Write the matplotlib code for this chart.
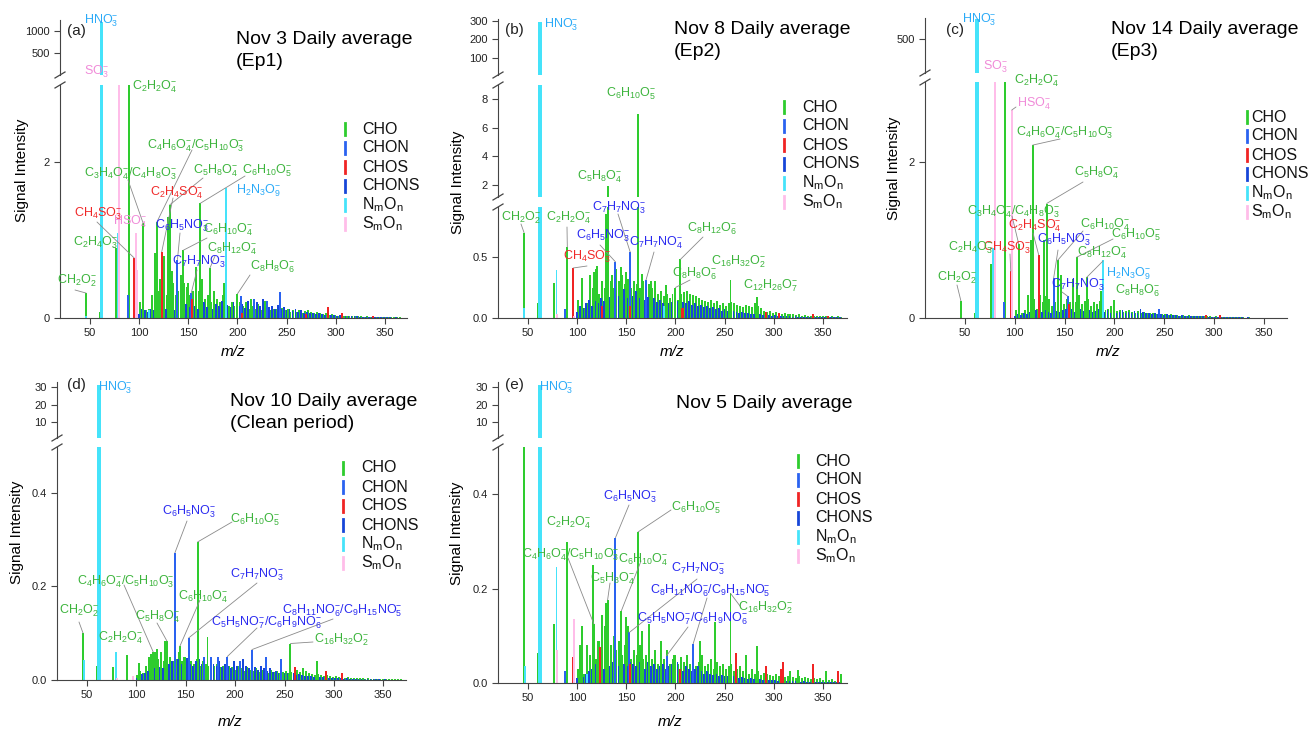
import re
import matplotlib
matplotlib.use('Agg')
import matplotlib.pyplot as plt
from matplotlib.lines import Line2D

plt.rcParams['font.family'] = ['Liberation Sans', 'DejaVu Sans']
plt.rcParams['mathtext.fontset'] = 'custom'
plt.rcParams['mathtext.rm'] = 'Liberation Sans'
plt.rcParams['mathtext.it'] = 'Liberation Sans:italic'
plt.rcParams['mathtext.default'] = 'regular'

## colours
C_CHO = '#2ecc2e'
C_CHON = '#2a62f0'
C_CHOS = '#f02424'
C_CHONS = '#1746d8'
C_NMON = '#45e3fa'
C_SMON = '#ffbde9'
T_GREEN = '#3cb43c'
T_BLUE = '#2a2af0'
T_RED = '#f02828'
T_SKY = '#2aaaf8'
T_PINK = '#f08ad8'

## background m/z grid (integer masses)
bg_cho_mz = list(range(101, 371, 3))
bg_chon_mz = list(range(100, 370, 3))

## ---- panel (a) Nov 3 ----
a_cho_mz = [46, 60, 76, 90, 104, 113, 116, 118, 121, 125, 129, 131, 133, 143, 145, 150, 158, 162, 164, 172, 176, 186, 200, 214, 228]
a_cho_h = [0.32, 0.08, 0.90, 3.2, 1.22, 0.25, 0.83, 1.23, 0.5, 0.80, 1.30, 1.45, 0.6, 0.55, 0.87, 0.45, 0.65, 1.47, 0.5, 0.64, 0.35, 0.45, 0.31, 0.25, 0.22]
a_chon_mz = [89, 139, 153, 204, 217, 230, 243]
a_chon_h = [0.30, 0.75, 0.32, 0.28, 0.24, 0.22, 0.33]
a_chos_mz = [95, 123, 154, 205, 270, 292, 306, 338]
a_chos_h = [0.77, 0.85, 0.25, 0.06, 0.05, 0.14, 0.06, 0.03]
a_nmon_mz = [46, 62, 78, 110, 188]
a_nmon_h = [0.03, 1200, 1.09, 0.10, 1.67]
a_smon_mz = [80, 97, 98]
a_smon_h = [3.5, 1.09, 0.62]
a_bg_cho = [0.20, 0.15, 0.10, 0.12, 0.30, 0.20, 0.35, 0.25, 0.50, 0.30,
            0.40, 0.45, 0.30, 0.35, 0.50, 0.45, 0.40, 0.30, 0.35, 0.45,
            0.35, 0.30, 0.25, 0.30, 0.20, 0.30, 0.25, 0.20, 0.30, 0.20,
            0.15, 0.20, 0.15, 0.18, 0.20, 0.15, 0.20, 0.12, 0.16, 0.12,
            0.18, 0.10, 0.14, 0.15, 0.10, 0.12, 0.12, 0.10, 0.13, 0.10,
            0.12, 0.08, 0.10, 0.08, 0.10, 0.07, 0.09, 0.10, 0.08, 0.07,
            0.08, 0.06, 0.05, 0.06, 0.04, 0.05, 0.04, 0.03, 0.04, 0.03,
            0.03, 0.025, 0.03, 0.02, 0.02, 0.02, 0.015, 0.02, 0.015, 0.01,
            0.015, 0.01, 0.01, 0.01, 0.01, 0.008, 0.01, 0.008, 0.008, 0.006]
a_bg_chon = [0.05, 0.12, 0.10, 0.08, 0.12, 0.10, 0.14, 0.10, 0.15, 0.12,
             0.18, 0.15, 0.10, 0.20, 0.16, 0.12, 0.18, 0.14, 0.22, 0.15,
             0.12, 0.17, 0.20, 0.14, 0.16, 0.12, 0.18, 0.15, 0.22, 0.13,
             0.17, 0.14, 0.20, 0.24, 0.15, 0.18, 0.13, 0.22, 0.16, 0.14,
             0.20, 0.15, 0.25, 0.18, 0.14, 0.16, 0.12, 0.17, 0.11, 0.14,
             0.10, 0.12, 0.09, 0.11, 0.08, 0.10, 0.07, 0.08, 0.06, 0.07,
             0.05, 0.06, 0.05, 0.04, 0.05, 0.04, 0.035, 0.03, 0.04, 0.03,
             0.025, 0.03, 0.02, 0.025, 0.02, 0.018, 0.015, 0.018, 0.012, 0.015,
             0.01, 0.012, 0.01, 0.008, 0.01, 0.008, 0.006, 0.007, 0.005, 0.005]

## ---- panel (b) Nov 8 ----
b_cho_mz = [46, 60, 76, 90, 105, 117, 120, 129, 131, 135, 145, 150, 158, 162, 166, 175, 190, 200, 205, 256, 283]
b_cho_h = [0.70, 0.12, 0.29, 0.58, 0.33, 0.38, 0.43, 0.85, 1.95, 0.35, 0.42, 0.38, 0.30, 7.0, 0.36, 0.30, 0.27, 0.25, 0.48, 0.31, 0.17]
b_chon_mz = [88, 139, 154, 170]
b_chon_h = [0.07, 0.46, 0.54, 0.31]
b_chos_mz = [96, 125, 154, 207, 208, 292, 305, 340, 355]
b_chos_h = [0.41, 0.10, 0.10, 0.08, 0.08, 0.05, 0.04, 0.03, 0.02]
b_nmon_mz = [46, 62, 79, 188]
b_nmon_h = [0.08, 295, 0.39, 0.10]
b_smon_mz = [80, 97]
b_smon_h = [0.03, 0.02]
b_bg_cho = [0.15, 0.10, 0.08, 0.12, 0.35, 0.25, 0.40, 0.20, 0.30, 0.25,
            0.35, 0.30, 0.25, 0.40, 0.30, 0.35, 0.28, 0.32, 0.25, 0.30,
            0.28, 0.25, 0.30, 0.22, 0.28, 0.25, 0.30, 0.20, 0.22, 0.18,
            0.20, 0.16, 0.20, 0.18, 0.15, 0.20, 0.21, 0.22, 0.20, 0.19,
            0.18, 0.16, 0.15, 0.14, 0.13, 0.15, 0.12, 0.14, 0.11, 0.12,
            0.10, 0.12, 0.13, 0.12, 0.11, 0.10, 0.09, 0.11, 0.10, 0.09,
            0.12, 0.10, 0.08, 0.06, 0.05, 0.06, 0.04, 0.05, 0.04, 0.035,
            0.04, 0.03, 0.035, 0.03, 0.025, 0.03, 0.02, 0.025, 0.02, 0.02,
            0.018, 0.02, 0.015, 0.018, 0.015, 0.012, 0.015, 0.012, 0.02, 0.01]
b_bg_chon = [0.05, 0.10, 0.08, 0.12, 0.15, 0.10, 0.14, 0.12, 0.16, 0.14,
             0.20, 0.17, 0.15, 0.22, 0.18, 0.20, 0.24, 0.16, 0.20, 0.18,
             0.22, 0.16, 0.19, 0.15, 0.17, 0.14, 0.16, 0.13, 0.15, 0.12,
             0.14, 0.12, 0.13, 0.15, 0.14, 0.16, 0.13, 0.12, 0.14, 0.11,
             0.12, 0.10, 0.11, 0.09, 0.10, 0.08, 0.09, 0.07, 0.08, 0.06,
             0.07, 0.06, 0.05, 0.06, 0.05, 0.04, 0.05, 0.04, 0.04, 0.035,
             0.03, 0.035, 0.03, 0.025, 0.03, 0.025, 0.02, 0.025, 0.02, 0.018,
             0.015, 0.018, 0.015, 0.012, 0.015, 0.012, 0.01, 0.012, 0.01, 0.01,
             0.008, 0.01, 0.008, 0.008, 0.006, 0.008, 0.006, 0.005, 0.005, 0.005]

## ---- panel (c) Nov 14 ----
c_cho_mz = [46, 60, 76, 90, 104, 116, 118, 129, 132, 143, 146, 158, 162, 172, 186, 200]
c_cho_h = [0.22, 0.06, 0.69, 3.2, 0.95, 1.0, 2.22, 1.0, 1.47, 0.74, 0.55, 0.50, 0.78, 0.52, 0.35, 0.23]
c_chon_mz = [89, 139, 153, 245]
c_chon_h = [0.20, 0.51, 0.28, 0.12]
c_chos_mz = [96, 124, 154, 292, 306]
c_chos_h = [0.60, 0.81, 0.18, 0.04, 0.04]
c_nmon_mz = [62, 78, 188]
c_nmon_h = [780, 0.90, 0.74]
c_smon_mz = [80, 97]
c_smon_h = [3.5, 2.67]
c_bg_cho = [0.10, 0.08, 0.06, 0.10, 0.30, 0.15, 0.25, 0.12, 0.30, 0.20,
            0.28, 0.25, 0.15, 0.20, 0.30, 0.22, 0.18, 0.25, 0.20, 0.28,
            0.20, 0.30, 0.18, 0.22, 0.25, 0.15, 0.20, 0.18, 0.22, 0.12,
            0.10, 0.12, 0.15, 0.10, 0.09, 0.10, 0.08, 0.09, 0.10, 0.08,
            0.07, 0.09, 0.06, 0.08, 0.07, 0.06, 0.07, 0.05, 0.06, 0.05,
            0.05, 0.04, 0.05, 0.04, 0.04, 0.03, 0.04, 0.03, 0.035, 0.03,
            0.025, 0.03, 0.02, 0.025, 0.02, 0.02, 0.015, 0.02, 0.015, 0.012,
            0.012, 0.01, 0.012, 0.01, 0.008, 0.01, 0.008, 0.006, 0.008, 0.006,
            0.005, 0.006, 0.005, 0.004, 0.005, 0.004, 0.004, 0.003, 0.004, 0.003]
c_bg_chon = [0.03, 0.05, 0.04, 0.06, 0.05, 0.08, 0.06, 0.10, 0.07, 0.08,
             0.10, 0.08, 0.07, 0.12, 0.09, 0.08, 0.10, 0.12, 0.09, 0.11,
             0.08, 0.10, 0.12, 0.09, 0.07, 0.10, 0.08, 0.09, 0.12, 0.07,
             0.08, 0.10, 0.07, 0.09, 0.06, 0.08, 0.10, 0.07, 0.08, 0.06,
             0.09, 0.07, 0.12, 0.08, 0.06, 0.07, 0.05, 0.06, 0.05, 0.05,
             0.04, 0.05, 0.04, 0.04, 0.035, 0.03, 0.035, 0.03, 0.03, 0.025,
             0.02, 0.025, 0.02, 0.02, 0.015, 0.018, 0.015, 0.012, 0.015, 0.012,
             0.01, 0.012, 0.01, 0.01, 0.008, 0.01, 0.008, 0.006, 0.008, 0.006,
             0.005, 0.006, 0.005, 0.004, 0.005, 0.004, 0.004, 0.003, 0.003, 0.003]

## ---- panel (d) Nov 10 ----
d_cho_mz = [46, 60, 76, 90, 103, 115, 117, 121, 125, 129, 131, 144, 148, 162, 172, 256, 283]
d_cho_h = [0.10, 0.03, 0.028, 0.054, 0.037, 0.055, 0.06, 0.066, 0.06, 0.083, 0.083, 0.072, 0.05, 0.295, 0.092, 0.078, 0.04]
d_chon_mz = [139, 153, 168, 176, 183, 192, 205, 217, 231, 246]
d_chon_h = [0.272, 0.09, 0.05, 0.05, 0.05, 0.05, 0.04, 0.065, 0.05, 0.045]
d_chos_mz = [261, 292, 308]
d_chos_h = [0.027, 0.02, 0.015]
d_nmon_mz = [47, 62, 79]
d_nmon_h = [0.043, 31, 0.06]
d_smon_mz = [80, 97]
d_smon_h = [0.005, 0.008]
d_bg_cho = [0.010, 0.020, 0.015, 0.030, 0.050, 0.040, 0.060, 0.045, 0.050, 0.040,
            0.035, 0.050, 0.040, 0.045, 0.060, 0.040, 0.050, 0.045, 0.040, 0.035,
            0.045, 0.030, 0.040, 0.035, 0.030, 0.038, 0.030, 0.035, 0.028, 0.030,
            0.025, 0.030, 0.028, 0.022, 0.030, 0.025, 0.020, 0.028, 0.022, 0.020,
            0.025, 0.018, 0.022, 0.020, 0.016, 0.022, 0.018, 0.020, 0.015, 0.018,
            0.020, 0.016, 0.018, 0.015, 0.022, 0.018, 0.025, 0.020, 0.015, 0.012,
            0.010, 0.012, 0.010, 0.008, 0.010, 0.008, 0.007, 0.008, 0.006, 0.007,
            0.005, 0.006, 0.005, 0.005, 0.004, 0.005, 0.004, 0.003, 0.004, 0.003,
            0.003, 0.003, 0.002, 0.003, 0.002, 0.002, 0.002, 0.002, 0.002, 0.002]
d_bg_chon = [0.005, 0.010, 0.012, 0.015, 0.020, 0.018, 0.025, 0.030, 0.028, 0.025,
             0.030, 0.035, 0.040, 0.030, 0.045, 0.035, 0.040, 0.048, 0.035, 0.030,
             0.040, 0.045, 0.035, 0.040, 0.030, 0.045, 0.035, 0.030, 0.040, 0.028,
             0.035, 0.030, 0.025, 0.040, 0.030, 0.025, 0.045, 0.030, 0.025, 0.035,
             0.028, 0.022, 0.030, 0.025, 0.020, 0.025, 0.018, 0.020, 0.015, 0.018,
             0.014, 0.016, 0.012, 0.014, 0.010, 0.012, 0.010, 0.009, 0.008, 0.008,
             0.007, 0.007, 0.006, 0.006, 0.005, 0.005, 0.005, 0.004, 0.004, 0.004,
             0.003, 0.004, 0.003, 0.003, 0.003, 0.002, 0.003, 0.002, 0.002, 0.002,
             0.002, 0.002, 0.002, 0.001, 0.002, 0.001, 0.001, 0.001, 0.001, 0.001]

## ---- panel (e) Nov 5 ----
e_cho_mz = [46, 60, 76, 90, 103, 105, 116, 117, 121, 125, 129, 131, 145, 150, 162, 166, 173, 185, 199, 225, 240, 256, 272, 283, 325, 353, 368]
e_cho_h = [0.55, 0.064, 0.125, 0.298, 0.08, 0.12, 0.25, 0.125, 0.09, 0.145, 0.17, 0.176, 0.153, 0.14, 0.32, 0.11, 0.125, 0.09, 0.06, 0.09, 0.13, 0.19, 0.06, 0.078, 0.027, 0.025, 0.02]
e_chon_mz = [88, 139, 153, 191, 218]
e_chon_h = [0.025, 0.308, 0.107, 0.058, 0.083]
e_chos_mz = [96, 123, 154, 205, 262, 292, 307, 309, 340, 365]
e_chos_h = [0.055, 0.076, 0.04, 0.03, 0.063, 0.035, 0.03, 0.045, 0.04, 0.025]
e_nmon_mz = [47, 62, 79, 110]
e_nmon_h = [0.035, 31, 0.245, 0.02]
e_smon_mz = [80, 97]
e_smon_h = [0.07, 0.135]
e_bg_cho = [0.030, 0.040, 0.020, 0.080, 0.060, 0.100, 0.050, 0.090, 0.070, 0.120,
            0.060, 0.080, 0.100, 0.070, 0.090, 0.060, 0.080, 0.120, 0.050, 0.070,
            0.060, 0.080, 0.050, 0.060, 0.090, 0.050, 0.070, 0.040, 0.060, 0.050,
            0.070, 0.040, 0.050, 0.060, 0.040, 0.055, 0.045, 0.060, 0.040, 0.050,
            0.035, 0.045, 0.060, 0.035, 0.040, 0.050, 0.030, 0.045, 0.035, 0.040,
            0.030, 0.035, 0.040, 0.025, 0.030, 0.035, 0.025, 0.030, 0.020, 0.030,
            0.020, 0.025, 0.018, 0.022, 0.020, 0.018, 0.015, 0.020, 0.015, 0.018,
            0.012, 0.015, 0.025, 0.012, 0.010, 0.015, 0.010, 0.012, 0.010, 0.008,
            0.010, 0.008, 0.010, 0.006, 0.008, 0.006, 0.008, 0.005, 0.006, 0.005]
e_bg_chon = [0.010, 0.015, 0.012, 0.020, 0.025, 0.030, 0.040, 0.035, 0.045, 0.030,
             0.040, 0.035, 0.045, 0.040, 0.035, 0.050, 0.040, 0.035, 0.045, 0.040,
             0.035, 0.045, 0.040, 0.030, 0.045, 0.035, 0.040, 0.030, 0.035, 0.040,
             0.030, 0.035, 0.040, 0.030, 0.045, 0.030, 0.025, 0.035, 0.030, 0.025,
             0.030, 0.035, 0.025, 0.020, 0.025, 0.020, 0.018, 0.020, 0.015, 0.018,
             0.015, 0.014, 0.012, 0.014, 0.012, 0.010, 0.012, 0.010, 0.009, 0.010,
             0.008, 0.009, 0.008, 0.007, 0.008, 0.006, 0.007, 0.006, 0.005, 0.006,
             0.005, 0.005, 0.004, 0.005, 0.004, 0.004, 0.003, 0.004, 0.003, 0.003,
             0.003, 0.003, 0.002, 0.003, 0.002, 0.002, 0.002, 0.002, 0.002, 0.002]

legend_names = ['CHO', 'CHON', 'CHOS', 'CHONS', r'N$_{m}$O$_{n}$', r'S$_{m}$O$_{n}$']
legend_colors = [C_CHO, C_CHON, C_CHOS, C_CHONS, C_NMON, C_SMON]

W, H = 1309, 730
fig = plt.figure(figsize=(W / 100, H / 100), dpi=100)
AX_COL = '#444444'


def add_ax(x0, x1, y0, y1):
    return fig.add_axes([x0 / W, 1 - y1 / H, (x1 - x0) / W, (y1 - y0) / H])


def fml(s):
    ## 'C2H2O4-' -> mathtext with subscripts and superscript minus
    out = []
    for part in s.split('/'):
        neg = part.endswith('-')
        toks = re.findall(r'[A-Za-z]+|\d+', part.rstrip('-'))
        seg = ''
        for i, tk in enumerate(toks):
            if tk.isdigit():
                if neg and i == len(toks) - 1:
                    seg += '$_{%s}^{-}$' % tk
                else:
                    seg += '$_{%s}$' % tk
            else:
                seg += tk
        if neg and not toks[-1].isdigit():
            seg += '$^{-}$'
        out.append(seg)
    return '/'.join(out)


def slash(x, y):
    fig.add_artist(Line2D([(x - 5) / W, (x + 5) / W], [1 - (y + 3) / H, 1 - (y - 3) / H],
                          transform=fig.transFigure, color=AX_COL, lw=0.9))


def draw_panel(p):
    x0, x1 = p['x']
    axes = []
    nseg = len(p['segs'])
    for k, (y0, y1, ylim, yt, ytl) in enumerate(p['segs']):
        ax = add_ax(x0, x1, y0, y1)
        ax.bar(bg_cho_mz, p['bg_cho'], width=2.0, color=C_CHO, linewidth=0)
        ax.bar(bg_chon_mz, p['bg_chon'], width=1.8, color=C_CHONS, linewidth=0)
        ax.bar(p['cho'][0], p['cho'][1], width=2.0, color=C_CHO, linewidth=0)
        ax.bar(p['chon'][0], p['chon'][1], width=2.0, color=C_CHON, linewidth=0)
        ax.bar(p['chos'][0], p['chos'][1], width=2.0, color=C_CHOS, linewidth=0)
        wn = [3.5 if h > 10 else 2.0 for h in p['nmon'][1]]
        ax.bar(p['nmon'][0], p['nmon'][1], width=wn, color=C_NMON, linewidth=0)
        ax.bar(p['smon'][0], p['smon'][1], width=2.0, color=C_SMON, linewidth=0)
        ax.set_xlim(*p['xlim'])
        ax.set_ylim(*ylim)
        ax.set_yticks(yt)
        ax.set_yticklabels(ytl if ytl else [str(v) for v in yt])
        for s in ['top', 'right']:
            ax.spines[s].set_visible(False)
        ax.spines['left'].set_color(AX_COL)
        ax.spines['bottom'].set_color(AX_COL)
        ax.tick_params(direction='out', length=4, width=0.8, colors=AX_COL, labelsize=8,
                       labelcolor='#222222')
        if k < nseg - 1:
            ax.spines['bottom'].set_visible(False)
            ax.set_xticks([])
        else:
            ax.set_xticks([50, 100, 150, 200, 250, 300, 350])
        ax.patch.set_alpha(0)
        axes.append(ax)
    for k in range(nseg - 1):
        slash(x0, p['segs'][k][1])
        slash(x0, p['segs'][k + 1][0])
    bottom = axes[-1]
    look = {'cho': p['cho'], 'chon': p['chon'], 'chos': p['chos'], 'smon': p['smon']}
    for txt, col, tx, ty, lead in p['labels']:
        fig.text(tx / W, 1 - ty / H, fml(txt), color=col, fontsize=9, ha='left', va='center')
        if lead is not None:
            lx, ly, mz, cls = lead
            h = look[cls][1][look[cls][0].index(mz)]
            bottom.annotate('', xy=(mz, h), xycoords='data', xytext=(lx, H - ly),
                            textcoords='figure pixels', annotation_clip=False,
                            arrowprops=dict(arrowstyle='-', color='#8a8a8a', lw=0.6,
                                            shrinkA=0, shrinkB=0))
    # title, panel letter
    tx, ty = p['title_pos']
    for i, line in enumerate(p['title']):
        fig.text(tx / W, 1 - (ty + 22 * i) / H, line, fontsize=14, ha='left', va='center')
    lx, ly = p['letter_pos']
    fig.text(lx / W, 1 - ly / H, p['letter'], fontsize=11, ha='left', va='center', color='#222222')
    # legend
    hx, lx2, ly0 = p['legend']
    for i, (nm, c) in enumerate(zip(legend_names, legend_colors)):
        yy = ly0 + 19 * i
        fig.add_artist(Line2D([hx / W, hx / W], [1 - (yy + 6) / H, 1 - (yy - 6) / H],
                              transform=fig.transFigure, color=c, lw=2.0))
        fig.text(lx2 / W, 1 - yy / H, nm, fontsize=11.5, ha='left', va='center', color='#111111')
    # axis labels
    yx, yy = p['ylabel_pos']
    fig.text(yx / W, 1 - yy / H, 'Signal Intensity', rotation=90, fontsize=11,
             ha='center', va='center')
    mx, my = p['xlabel_pos']
    fig.text(mx / W, 1 - my / H, 'm/z', style='italic', fontsize=11, ha='center', va='center')


panels = [
    dict(letter='(a)', letter_pos=(67, 31), x=(60, 407), xlim=(19.5, 372.5),
         segs=[(20, 75, (3, 1250), [500, 1000], None), (85, 318, (0, 2.99), [0, 2], None)],
         cho=(a_cho_mz, a_cho_h), chon=(a_chon_mz, a_chon_h), chos=(a_chos_mz, a_chos_h),
         nmon=(a_nmon_mz, a_nmon_h), smon=(a_smon_mz, a_smon_h), bg_cho=a_bg_cho, bg_chon=a_bg_chon,
         title=['Nov 3 Daily average', '(Ep1)'], title_pos=(236, 40),
         legend=(345, 362, 129), ylabel_pos=(22, 170), xlabel_pos=(233, 352),
         labels=[('HNO3-', T_SKY, 84, 21, None), ('SO3-', T_PINK, 84, 72, None),
                 ('C2H2O4-', T_GREEN, 132, 87, None),
                 ('C4H6O4-/C5H10O3-', T_GREEN, 147, 146, (192, 150, 118, 'cho')),
                 ('C3H4O4-/C4H8O3-', T_GREEN, 84, 174, (128, 180, 104, 'cho')),
                 ('C5H8O4-', T_GREEN, 193, 171, (203, 178, 131, 'cho')),
                 ('C6H10O5-', T_GREEN, 242, 171, (245, 176, 162, 'cho')),
                 ('C2H4SO4-', T_RED, 150, 193, (173, 198, 123, 'chos')),
                 ('H2N3O9-', T_SKY, 236, 191, None),
                 ('CH4SO3-', T_RED, 74, 214, (97, 222, 95, 'chos')),
                 ('HSO4-', T_PINK, 113, 222, None),
                 ('C6H5NO3-', T_BLUE, 155, 226, (180, 233, 139, 'chon')),
                 ('C6H10O4-', T_GREEN, 203, 230, (207, 238, 145, 'cho')),
                 ('C8H12O4-', T_GREEN, 207, 249, (215, 256, 172, 'cho')),
                 ('C7H7NO3-', T_BLUE, 172, 262, (197, 270, 153, 'chon')),
                 ('C2H4O3-', T_GREEN, 73, 243, (113, 247, 76, 'cho')),
                 ('CH2O2-', T_GREEN, 57, 281, (75, 290, 46, 'cho')),
                 ('C8H8O6-', T_GREEN, 250, 267, (250, 275, 200, 'cho'))]),
    dict(letter='(b)', letter_pos=(505, 30), x=(498, 847), xlim=(19.5, 374.5),
         segs=[(19, 75, (8, 310), [100, 200, 300], None), (85, 197, (1.16, 9.0), [2, 4, 6, 8], None),
               (207, 318, (0, 0.91), [0.0, 0.5], ['0.0', '0.5'])],
         cho=(b_cho_mz, b_cho_h), chon=(b_chon_mz, b_chon_h), chos=(b_chos_mz, b_chos_h),
         nmon=(b_nmon_mz, b_nmon_h), smon=(b_smon_mz, b_smon_h), bg_cho=b_bg_cho, bg_chon=b_bg_chon,
         title=['Nov 8 Daily average', '(Ep2)'], title_pos=(674, 30),
         legend=(784, 802, 107), ylabel_pos=(458, 182), xlabel_pos=(672, 352),
         labels=[('HNO3-', T_SKY, 544, 25, None),
                 ('C6H10O5-', T_GREEN, 606, 94, None),
                 ('C5H8O4-', T_GREEN, 577, 177, None),
                 ('CH2O2-', T_GREEN, 501, 218, (521, 224, 46, 'cho')),
                 ('C2H2O4-', T_GREEN, 546, 218, (567, 227, 90, 'cho')),
                 ('C7H7NO3-', T_BLUE, 592, 208, (618, 214, 154, 'chon')),
                 ('C6H5NO3-', T_BLUE, 576, 236, (600, 245, 139, 'chon')),
                 ('C7H7NO4-', T_BLUE, 629, 243, (654, 252, 170, 'chon')),
                 ('CH4SO3-', T_RED, 563, 257, (587, 266, 96, 'chos')),
                 ('C8H12O6-', T_GREEN, 687, 229, (703, 237, 205, 'cho')),
                 ('C8H8O6-', T_GREEN, 672, 274, (690, 280, 200, 'cho')),
                 ('C16H32O2-', T_GREEN, 711, 262, None),
                 ('C12H26O7-', T_GREEN, 743, 286, None)]),
    dict(letter='(c)', letter_pos=(946, 30), x=(925, 1287), xlim=(10, 373),
         segs=[(18, 73, (3, 800), [500], None), (82, 318, (0, 3.03), [0, 2], None)],
         cho=(c_cho_mz, c_cho_h), chon=(c_chon_mz, c_chon_h), chos=(c_chos_mz, c_chos_h),
         nmon=(c_nmon_mz, c_nmon_h), smon=(c_smon_mz, c_smon_h), bg_cho=c_bg_cho, bg_chon=c_bg_chon,
         title=['Nov 14 Daily average', '(Ep3)'], title_pos=(1111, 30),
         legend=(1247, 1251, 117), ylabel_pos=(894, 168), xlabel_pos=(1108, 352),
         labels=[('HNO3-', T_SKY, 962, 20, None), ('SO3-', T_PINK, 983, 67, None),
                 ('C2H2O4-', T_GREEN, 1014, 81, None),
                 ('HSO4-', T_PINK, 1017, 104, (1016, 107, 97, 'smon')),
                 ('C4H6O4-/C5H10O3-', T_GREEN, 1016, 133, (1060, 139, 118, 'cho')),
                 ('C5H8O4-', T_GREEN, 1074, 173, (1083, 182, 132, 'cho')),
                 ('C3H4O4-/C4H8O3-', T_GREEN, 967, 212, (1012, 216, 104, 'cho')),
                 ('C2H4SO4-', T_RED, 1008, 226, (1033, 233, 124, 'chos')),
                 ('C6H10O4-', T_GREEN, 1080, 225, (1083, 231, 143, 'cho')),
                 ('C6H10O5-', T_GREEN, 1111, 235, (1113, 239, 162, 'cho')),
                 ('C6H5NO3-', T_BLUE, 1037, 240, (1058, 250, 139, 'chon')),
                 ('CH4SO3-', T_RED, 983, 248, (1010, 254, 96, 'chos')),
                 ('C2H4O3-', T_GREEN, 948, 248, None),
                 ('C8H12O4-', T_GREEN, 1077, 253, (1103, 261, 172, 'cho')),
                 ('CH2O2-', T_GREEN, 937, 278, (957, 285, 46, 'cho')),
                 ('H2N3O9-', T_SKY, 1106, 274, None),
                 ('C7H7NO3-', T_BLUE, 1051, 285, (1062, 292, 153, 'chon')),
                 ('C8H8O6-', T_GREEN, 1115, 291, None)]),
    dict(letter='(d)', letter_pos=(67, 385), x=(57, 406), xlim=(19.6, 373),
         segs=[(382, 438, (0.86, 32.9), [10, 20, 30], None),
               (447, 680, (0, 0.498), [0.0, 0.2, 0.4], ['0.0', '0.2', '0.4'])],
         cho=(d_cho_mz, d_cho_h), chon=(d_chon_mz, d_chon_h), chos=(d_chos_mz, d_chos_h),
         nmon=(d_nmon_mz, d_nmon_h), smon=(d_smon_mz, d_smon_h), bg_cho=d_bg_cho, bg_chon=d_bg_chon,
         title=['Nov 10 Daily average', '(Clean period)'], title_pos=(230, 402),
         legend=(343, 361, 468), ylabel_pos=(17, 532), xlabel_pos=(230, 722),
         labels=[('HNO3-', T_SKY, 98, 388, None),
                 ('C6H5NO3-', T_BLUE, 162, 512, (187, 521, 139, 'chon')),
                 ('C6H10O5-', T_GREEN, 230, 520, (232, 522, 162, 'cho')),
                 ('C7H7NO3-', T_BLUE, 230, 575, (257, 583, 153, 'chon')),
                 ('C4H6O4-/C5H10O3-', T_GREEN, 77, 582, (124, 585, 117, 'cho')),
                 ('C6H10O4-', T_GREEN, 178, 597, (200, 600, 144, 'cho')),
                 ('CH2O2-', T_GREEN, 59, 611, (79, 622, 46, 'cho')),
                 ('C5H8O4-', T_GREEN, 135, 617, (157, 623, 131, 'cho')),
                 ('C8H11NO6-/C9H15NO5-', T_BLUE, 282, 611, (333, 619, 217, 'chon')),
                 ('C5H5NO7-/C6H9NO6-', T_BLUE, 211, 623, (257, 628, 192, 'chon')),
                 ('C2H2O4-', T_GREEN, 98, 638, None),
                 ('C16H32O2-', T_GREEN, 314, 640, (313, 642, 256, 'cho'))]),
    dict(letter='(e)', letter_pos=(505, 385), x=(498, 847), xlim=(19.5, 374.5),
         segs=[(382, 438, (0.86, 32.9), [10, 20, 30], None),
               (447, 683, (0, 0.5), [0.0, 0.2, 0.4], ['0.0', '0.2', '0.4'])],
         cho=(e_cho_mz, e_cho_h), chon=(e_chon_mz, e_chon_h), chos=(e_chos_mz, e_chos_h),
         nmon=(e_nmon_mz, e_nmon_h), smon=(e_smon_mz, e_smon_h), bg_cho=e_bg_cho, bg_chon=e_bg_chon,
         title=['Nov 5 Daily average'], title_pos=(676, 403),
         legend=(798, 815, 461), ylabel_pos=(457, 533), xlabel_pos=(670, 722),
         labels=[('HNO3-', T_SKY, 539, 388, None),
                 ('C6H5NO3-', T_BLUE, 603, 497, (629, 505, 139, 'chon')),
                 ('C6H10O5-', T_GREEN, 671, 508, (671, 510, 162, 'cho')),
                 ('C2H2O4-', T_GREEN, 546, 523, None),
                 ('C4H6O4-/C5H10O3-', T_GREEN, 522, 555, (568, 558, 117, 'cho')),
                 ('C6H10O4-', T_GREEN, 618, 560, (641, 561, 145, 'cho')),
                 ('C7H7NO3-', T_BLUE, 671, 569, (697, 579, 153, 'chon')),
                 ('C5H8O4-', T_GREEN, 590, 579, (610, 583, 131, 'cho')),
                 ('C8H11NO6-/C9H15NO5-', T_BLUE, 650, 591, (707, 598, 218, 'chon')),
                 ('C16H32O2-', T_GREEN, 738, 608, (740, 606, 256, 'cho')),
                 ('C5H5NO7-/C6H9NO6-', T_BLUE, 637, 619, (688, 627, 191, 'chon'))]),
]

for p in panels:
    draw_panel(p)

fig.savefig('out.png', dpi=100)
